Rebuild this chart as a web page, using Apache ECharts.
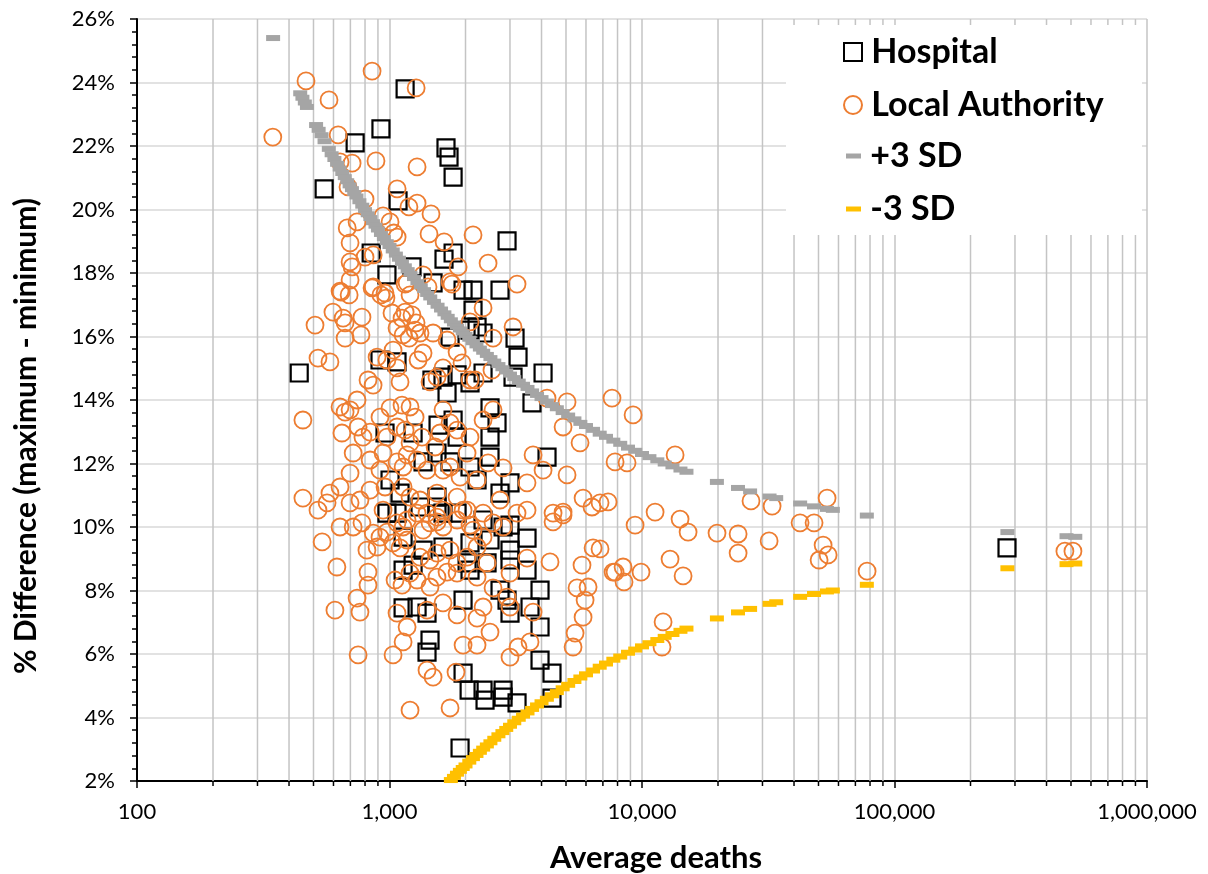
<!DOCTYPE html>
<html>
<head>
<meta charset="utf-8">
<script src="https://cdn.jsdelivr.net/npm/echarts/dist/echarts.min.js"></script>
<style>
html, body { margin: 0; padding: 0; background: #fff; }
#chart { width: 1208px; height: 874px; }
</style>
</head>
<body>
<div id="chart"></div>
<script>
// average deaths vs % difference
const hospital = [
  [1153,23.8],[925,22.54],[731,22.1],[1674,21.94],[1721,21.65],[1786,21.02],[551,20.65],[1081,20.27],
  [2921,19.01],[1786,18.63],[1644,18.44],[846,18.63],[977,17.94],[1228,18.19],[1488,17.69],[1956,17.46],
  [2142,17.46],[2740,17.46],
  [439,14.85],[2142,16.83],[2222,16.3],[2347,16.11],[3142,15.95],[3229,15.35],[2084,16.2],[1737,15.98],
  [917,15.26],[1071,15.2],[1473,14.63],[1629,14.72],[1852,14.79],[2084,14.54],[1690,14.22],[2347,14.85],
  [3085,14.72],[4057,14.85],[3667,13.91],[2501,13.75],[2666,13.28],[2501,12.83],[1786,13.37],[1557,13.21],
  [960,12.96],[1240,12.96],[1852,12.83],[1542,12.33],[1358,12.05],[1737,12.05],[2084,11.89],[2501,12.2],
  [4206,12.2],[2222,11.48],[3001,11.39],[2740,11.07],[1005,11.48],[1101,11.07],[977,10.44],[1321,10.63],
  [1629,10.44],[2347,10.22],[3001,10.06],[1542,10.94],
  [1132,7.45],[1286,7.48],[1408,7.29],[1956,7.7],[2740,8.01],[2921,7.7],[3001,7.29],[3946,8.01],
  [3946,6.85],[3602,7.48],[3505,8.64],[3001,9.27],[3001,8.96],[3505,9.65],[2434,8.87],[2029,8.87],
  [2084,8.64],[1240,8.8],[1132,8.64],[1447,6.44],[1408,6.06],[1956,5.4],[2067,4.86],[2347,4.86],
  [2817,4.86],[2390,4.55],[2817,4.64],[3200,4.46],[3946,5.81],[4401,5.4],[4401,4.61],[1903,3.04],
  [1071,10.44],[1542,10.63],[1852,10.44],[2817,10.0],[1132,9.68],[1358,9.27],[1629,9.37],[2084,9.5],
  [2501,9.59],
  [279000,9.34]
];

const localAuthority = [
  [345,22.28],[467,24.05],[853,24.36],[576,23.45],[626,22.35],[1275,23.83],[711,21.46],[637,21.5],
  [884,21.53],[1286,21.34],[685,20.71],[1072,20.65],[800,20.33],[1286,20.2],[1194,20.08],[1460,19.86],
  [943,19.8],[1005,19.61],[680,19.42],[744,19.61],[1434,19.23],[1072,19.13],[1040,19.26],[1645,18.98],
  [698,18.95],[2142,19.2],[2457,18.31],[1870,18.19],[698,18.35],[711,18.19],[862,18.57],[800,18.5],
  [698,17.78],[637,17.43],[1358,17.94],[1737,17.72],[3200,17.65],[1174,17.69],[862,17.56],[960,17.37],
  [643,17.4],[692,17.31],[853,17.53],[925,17.31],[968,17.21],[1206,17.31],[1153,17.65],[1421,17.56],
  [1768,17.65],[597,16.77],[655,16.58],[667,16.43],[778,16.61],[507,16.36],[667,15.95],[771,16.05],
  [1023,16.74],[1121,16.58],[1153,16.77],[1228,16.68],[1274,16.43],[1321,16.11],[1263,16.2],[1071,16.27],
  [1132,16.05],[1196,15.95],[1488,16.11],[1690,15.89],[2084,16.46],[2347,16.9],[2571,15.95],[3085,16.3],
  [2546,14.94],[2084,14.63],[521,15.32],[581,15.2],[822,14.63],[861,14.47],[893,15.35],[1033,15.57],
  [1071,15.01],[977,15.26],[1101,14.57],[1358,15.48],[1298,15.26],[1447,14.57],[1542,14.72],[1629,15.01],
  [1852,15.51],[1937,15.17],[2182,14.63],
  [454,13.37],[637,13.78],[667,13.62],[698,13.69],[744,14.0],[751,13.15],[648,12.96],[785,12.83],
  [838,12.99],[917,13.46],[1005,13.75],[1121,13.84],[1206,13.78],[1263,13.46],[1071,13.15],[1153,13.05],
  [977,12.83],[1345,12.83],[1206,12.65],[1629,13.69],[1737,13.28],[1852,13.05],[1585,12.96],[1515,12.52],
  [2084,12.83],[2029,12.33],[2347,13.37],[2571,13.69],[4206,14.06],[5049,13.94],[4869,13.15],[5684,12.65],
  [7607,14.06],[7823,12.05],[3703,12.27],[4057,11.79],[5049,11.64],[3505,11.39],[2817,11.86],[2457,12.02],
  [2222,11.48],[1903,11.57],[1629,11.79],[1737,11.89],[1408,11.79],[1286,12.11],[1174,12.27],[1132,11.89],
  [1071,12.05],[943,12.33],[917,11.79],[838,12.11],[718,12.33],[698,11.7],[637,11.26],[581,11.07],
  [521,10.53],[454,10.91],[566,10.76],[764,10.85],[838,11.16],[960,11.26],[1132,11.26],[1206,10.94],
  [1321,10.85],[1408,10.44],[1542,11.07],[1629,10.53],[1852,10.94],[2029,10.53],[2347,10.44],[2740,10.85],
  [3505,10.53],[4444,10.44],[4869,10.47],[5843,10.91],[6338,10.63],[7339,10.79],[1174,10.22],[1542,10.16],
  [2084,10.06],[943,10.53],
  [698,10.76],[637,10.0],[718,10.0],[778,10.13],[541,9.53],[862,9.81],[917,9.68],[977,9.84],
  [1071,10.13],[1132,10.0],[1286,10.44],[1358,9.9],[1447,10.13],[1542,10.31],[1629,10.0],[1852,10.22],
  [1956,10.53],[2142,9.9],[2347,9.68],[2571,10.13],[2817,10.0],[3200,10.44],[814,9.27],[893,9.37],
  [1033,9.5],[1101,9.34],[1174,9.59],[1321,9.05],[1447,8.96],[1542,9.18],[1737,9.27],[1852,8.87],
  [2029,9.05],[2222,9.37],[2434,8.87],[619,8.74],[822,8.58],[822,8.17],[1052,8.33],[1121,8.17],
  [1206,8.55],[1286,8.33],[1447,8.11],[1542,8.42],[1690,8.58],[1852,8.55],[2222,8.42],[3001,8.55],
  [3505,9.02],[4323,8.9],[4444,10.16],[4869,10.38],[5786,8.8],[6400,9.34],[7823,8.58],[744,7.76],
  [608,7.38],[764,7.32],[1071,7.29],[1174,6.85],[1408,7.38],[1629,7.61],[1852,7.23],[2222,7.13],
  [2347,7.48],[2571,8.08],[2921,7.79],[3001,7.48],[3703,7.32],[2501,6.69],[3001,5.9],[3229,6.22],
  [3602,6.38],[5530,8.08],[6116,8.11],[5951,7.7],[5843,7.16],[5432,6.66],[5333,6.22],[1033,5.97],
  [751,5.97],[1132,6.38],[1408,5.49],[1488,5.27],[1956,6.28],[2222,6.28],[1834,5.43],[1206,4.23],
  [1737,4.3],
  [9219,13.53],[8726,12.02],[13522,12.27],[6821,10.76],[9389,10.06],[11268,10.47],[14149,10.25],[15224,9.84],
  [6821,9.31],[7681,8.58],[8415,8.74],[8489,8.27],[9912,8.58],[12915,8.99],[14545,8.46],[19822,9.81],
  [24023,9.78],[24023,9.18],[27023,10.82],[32754,10.66],[31873,9.56],[42270,10.13],[48019,10.13],[54076,10.91],
  [52148,9.43],[50276,8.96],[54583,9.12],[77883,8.61],[12120,7.01],[12002,6.22],
  [473000,9.24],[509000,9.24]
];

// control limits, one dash per area size
const sdDeaths = [
  346, 443, 452, 462, 471, 512, 524, 538, 553, 575, 590, 605, 620, 635, 650, 665, 680, 695, 710, 725,
  740, 760, 780, 800, 820, 840, 860, 880, 900, 925, 950, 975, 1000, 1030, 1060, 1090, 1120, 1150, 1180, 1210,
  1250, 1290, 1330, 1370, 1410, 1450, 1500, 1550, 1600, 1650, 1700, 1750, 1800, 1850, 1900, 1950, 2000, 2070, 2140, 2210,
  2280, 2350, 2430, 2510, 2600, 2700, 2800, 2900, 3000, 3120, 3250, 3380, 3520, 3670, 3840, 4000, 4200, 4400, 4600, 4850,
  5100, 5400, 5700, 6000, 6400, 6800, 7200, 7700, 8200, 8800, 9400, 10000, 10700, 11500, 12300, 13200, 14200, 15000, 19800, 24000,
  26800, 32000, 34000, 42300, 48000, 54000, 57000, 77700, 280000, 480000, 520000
];
const sdUpper = [
  25.4, 23.66, 23.52, 23.37, 23.23, 22.66, 22.51, 22.34, 22.15, 21.91, 21.74, 21.59, 21.44, 21.29, 21.15, 21.02, 20.89, 20.76, 20.64, 20.52,
  20.41, 20.26, 20.12, 19.98, 19.85, 19.73, 19.6, 19.49, 19.37, 19.23, 19.1, 18.97, 18.85, 18.71, 18.58, 18.45, 18.32, 18.21, 18.09, 17.98,
  17.84, 17.71, 17.58, 17.46, 17.34, 17.23, 17.09, 16.97, 16.85, 16.73, 16.62, 16.51, 16.41, 16.31, 16.22, 16.13, 16.05, 15.93, 15.82, 15.72,
  15.62, 15.52, 15.42, 15.32, 15.21, 15.1, 15.0, 14.9, 14.8, 14.69, 14.58, 14.48, 14.38, 14.27, 14.16, 14.06, 13.95, 13.84, 13.74, 13.62,
  13.51, 13.39, 13.28, 13.18, 13.06, 12.94, 12.84, 12.72, 12.62, 12.5, 12.4, 12.3, 12.2, 12.1, 12.0, 11.91, 11.81, 11.74, 11.42, 11.23,
  11.12, 10.96, 10.91, 10.74, 10.65, 10.57, 10.54, 10.36, 9.84, 9.71, 9.69
];
const sdLower = [
  null, null, null, null, null, null, null, null, null, null, null, null, null, null, null, null, null, null, null, null,
  null, null, null, null, null, null, null, null, null, null, null, null, null, null, null, null, null, null, null, null,
  null, null, null, null, null, null, null, null, null, null, null, 2.03, 2.13, 2.23, 2.32, 2.41, 2.49, 2.61, 2.72, 2.82,
  2.92, 3.02, 3.12, 3.22, 3.33, 3.44, 3.54, 3.64, 3.74, 3.85, 3.96, 4.06, 4.16, 4.27, 4.38, 4.48, 4.59, 4.70, 4.80, 4.92,
  5.03, 5.15, 5.26, 5.36, 5.48, 5.6, 5.7, 5.82, 5.92, 6.04, 6.14, 6.24, 6.34, 6.44, 6.54, 6.63, 6.73, 6.80, 7.12, 7.31,
  7.42, 7.58, 7.63, 7.8, 7.89, 7.97, 8.0, 8.18, 8.70, 8.83, 8.85
];

// minor log gridlines (2..9 per decade)
const minorTicksX = [
  200, 300, 400, 500, 600, 700, 800, 900,
  2000, 3000, 4000, 5000, 6000, 7000, 8000, 9000,
  20000, 30000, 40000, 50000, 60000, 70000, 80000, 90000,
  200000, 300000, 400000, 500000, 600000, 700000, 800000, 900000
];

const upperPts = sdDeaths.map((d, i) => [d, sdUpper[i]]);
const lowerPts = sdDeaths.map((d, i) => [d, sdLower[i]]).filter(p => p[1] !== null);

const FONT = 'Lato';
const GRID_V = '#c4c4c4';
const chart = echarts.init(document.getElementById('chart'));

const option = {
  backgroundColor: '#fff',
  animation: false,
  textStyle: { fontFamily: FONT },
  grid: { left: 137, top: 19, right: 61, bottom: 93, containLabel: false, outerBoundsMode: 'none' },
  xAxis: {
    type: 'log', logBase: 10, min: 100, max: 1000000,
    name: 'Average deaths', nameLocation: 'middle', nameGap: 61,
    nameTextStyle: { fontFamily: FONT, fontSize: 31, fontWeight: 'bold', color: '#000', padding: [0, 0, 0, 28] },
    axisLine: { show: true, onZero: false, lineStyle: { color: '#000', width: 2 } },
    axisTick: { show: true, inside: false, length: 7, lineStyle: { color: '#000', width: 1.5 } },
    axisLabel: {
      margin: 20, color: '#000', fontFamily: FONT, fontSize: 22,
      formatter: v => Math.round(v).toLocaleString('en-US')
    },
    splitLine: { show: true, lineStyle: { color: GRID_V, width: 1.5 } }
  },
  yAxis: {
    type: 'value', min: 2, max: 26, interval: 2,
    name: '% Difference (maximum - minimum)', nameLocation: 'middle', nameGap: 96, nameRotate: 90,
    nameTextStyle: { fontFamily: FONT, fontSize: 30, fontWeight: 'bold', color: '#000', padding: [0, 72, 0, 0] },
    axisLine: { show: true, onZero: false, lineStyle: { color: '#000', width: 2 } },
    axisTick: { show: true, inside: false, length: 7, lineStyle: { color: '#000', width: 1.5 } },
    minorTick: { show: true, splitNumber: 5, length: 5, lineStyle: { color: '#000', width: 1.5 } },
    axisLabel: { margin: 22, color: '#000', fontFamily: FONT, fontSize: 22, formatter: '{value}%' },
    splitLine: { show: true, lineStyle: { color: '#d9d9d9', width: 1.5 } }
  },
  legend: [
    {
      data: ['Hospital', 'Local Authority'],
      orient: 'vertical', left: 838, top: 27,
      itemWidth: 18, itemHeight: 18, itemGap: 13,
      formatter: n => '\u2009' + n,
      textStyle: { fontFamily: FONT, fontSize: 34, fontWeight: 'bold', color: '#000', lineHeight: 40 },
      z: 10
    },
    {
      data: ['+3 SD', '-3 SD'],
      orient: 'vertical', left: 841, top: 131,
      itemWidth: 15, itemHeight: 5, itemGap: 13,
      formatter: n => '\u2009' + n,
      textStyle: { fontFamily: FONT, fontSize: 34, fontWeight: 'bold', color: '#000', lineHeight: 40 },
      z: 10
    }
  ],
  graphic: [{
    type: 'rect', left: 786, top: 25, z: 5, silent: true,
    shape: { width: 356, height: 210 },
    style: { fill: '#fff' }
  }],
  series: [
    {
      type: 'custom', name: 'minor', silent: true, z: 1, clip: false,
      data: minorTicksX.map(v => [v, 2]),
      encode: { x: 0, y: 1 },
      renderItem: (params, api) => {
        const top = api.coord([api.value(0), 26]);
        const bot = api.coord([api.value(0), 2]);
        return {
          type: 'group',
          children: [
            { type: 'line', shape: { x1: top[0], y1: top[1], x2: bot[0], y2: bot[1] }, style: { stroke: GRID_V, lineWidth: 1.5 } },
            { type: 'line', shape: { x1: bot[0], y1: bot[1], x2: bot[0], y2: bot[1] + 5 }, style: { stroke: '#000', lineWidth: 1.5 } }
          ]
        };
      }
    },
    {
      type: 'scatter', name: 'Hospital', data: hospital,
      symbol: 'rect', symbolSize: 17,
      itemStyle: { color: 'rgba(0,0,0,0)', borderColor: '#000', borderWidth: 2.2, opacity: 1 }
    },
    {
      type: 'scatter', name: 'Local Authority', data: localAuthority,
      symbol: 'circle', symbolSize: 17,
      itemStyle: { color: 'rgba(0,0,0,0)', borderColor: '#ED7D31', borderWidth: 1.8, opacity: 1 }
    },
    {
      type: 'scatter', name: '+3 SD', data: upperPts,
      symbol: 'rect', symbolSize: [14, 6],
      itemStyle: { color: '#A5A5A5', opacity: 1 }
    },
    {
      type: 'scatter', name: '-3 SD', data: lowerPts,
      symbol: 'rect', symbolSize: [14, 6],
      itemStyle: { color: '#FFC000', opacity: 1 }
    }
  ]
};

chart.setOption(option);
window.addEventListener('resize', () => chart.resize());
</script>
</body>
</html>
